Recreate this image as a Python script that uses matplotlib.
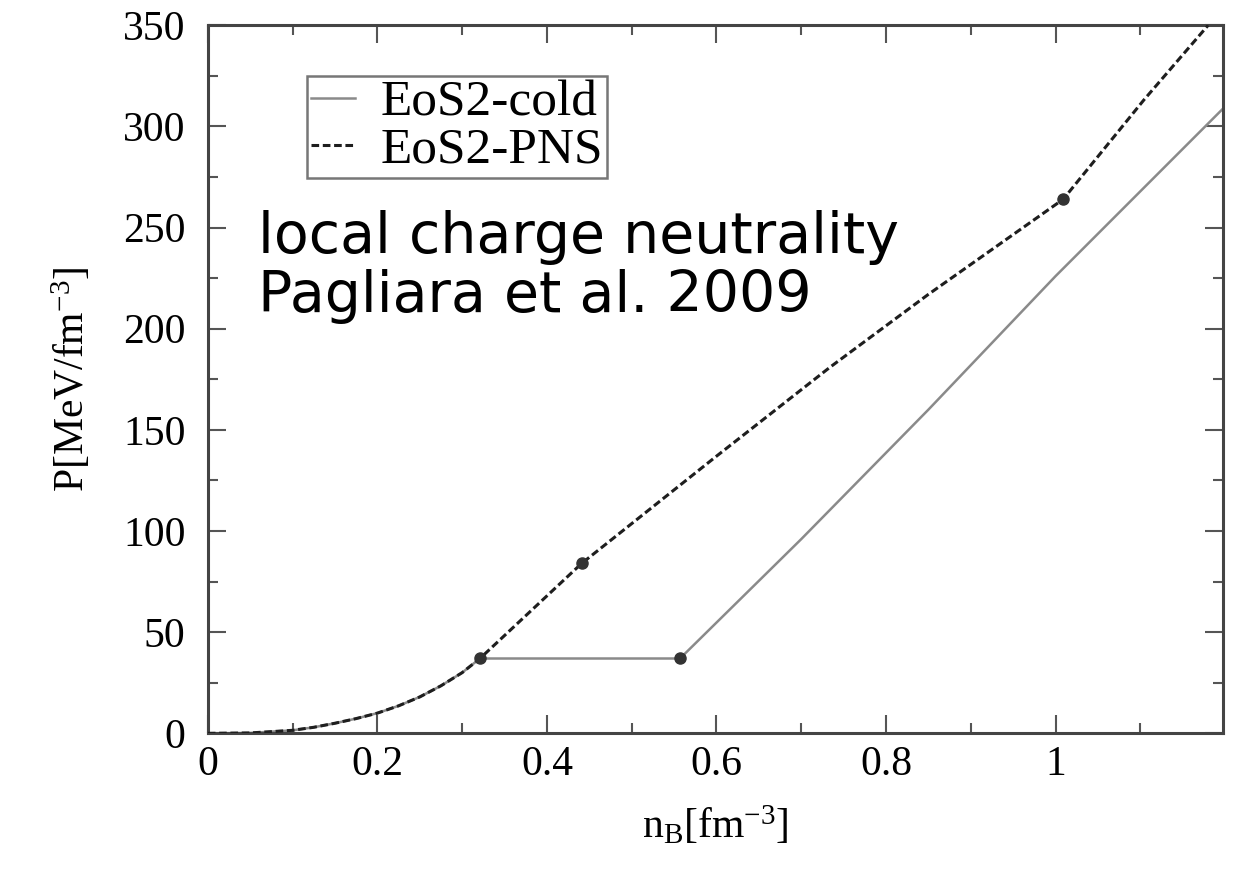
import matplotlib
matplotlib.use("Agg")
import matplotlib.pyplot as plt
from matplotlib.ticker import MultipleLocator

plt.rcParams['font.family'] = ['Liberation Serif', 'DejaVu Serif']
plt.rcParams['mathtext.fontset'] = 'custom'
plt.rcParams['mathtext.rm'] = 'Liberation Serif'
plt.rcParams['mathtext.it'] = 'Liberation Serif:italic'

# shared hadronic branch (both EoS coincide here)
n_low = [0.0, 0.05, 0.1, 0.125, 0.15, 0.175, 0.2, 0.225, 0.25, 0.275, 0.3, 0.321]
p_low = [0.0, 0.2, 1.5, 3.0, 5.0, 7.3, 10.0, 13.6, 18.0, 23.5, 30.0, 37.0]

# EoS2-cold: mixed phase plateau then quark phase
n_cold = [0.557, 0.7, 0.85, 1.0, 1.198]
p_cold = [37.0, 96.0, 160.0, 226.0, 309.0]

# EoS2-PNS above the onset of the mixed phase
n_pns = [0.321, 0.441, 0.6, 0.734, 0.85, 1.009, 1.104, 1.18]
p_pns = [37.0, 84.0, 137.0, 181.0, 217.0, 264.0, 313.0, 350.0]

# phase boundaries marked by dots
n_dots = [0.321, 0.557, 0.441, 1.009]
p_dots = [37.0, 37.0, 84.0, 264.0]

fig = plt.figure(figsize=(12.37, 8.72), dpi=100)
ax = fig.add_axes([0.168, 0.159, 0.821, 0.812])

ax.plot(n_low + n_cold, p_low + p_cold, color='#8a8a8a', lw=1.8,
        label='EoS2-cold', zorder=2)
ax.plot(n_low + n_pns[1:], p_low + p_pns[1:], color='#1e1e1e', lw=2.2,
        ls=(0, (2.5, 1.2)), label='EoS2-PNS', zorder=3)
ax.plot(n_dots, p_dots, 'o', color='#333333', ms=8, zorder=4)

ax.set_xlim(0, 1.198)
ax.set_ylim(0, 350)
ax.xaxis.set_major_locator(MultipleLocator(0.2))
ax.xaxis.set_minor_locator(MultipleLocator(0.1))
ax.yaxis.set_major_locator(MultipleLocator(50))
ax.yaxis.set_minor_locator(MultipleLocator(25))
ax.set_xticks([0, 0.2, 0.4, 0.6, 0.8, 1.0])
ax.set_xticklabels(['0', '0.2', '0.4', '0.6', '0.8', '1'])

ax.tick_params(which='both', direction='in', top=True, right=True,
               color='#555555', width=1.5, labelsize=30)
ax.tick_params(which='major', length=13)
ax.tick_params(which='minor', length=7)
ax.tick_params(axis='x', pad=9)
ax.tick_params(axis='y', pad=16)
for sp in ax.spines.values():
    sp.set_linewidth(2.2)
    sp.set_color('#444444')

ax.set_xlabel(r'$\mathrm{n_B[fm^{-3}]}$', fontsize=30, labelpad=14)
ax.set_ylabel(r'$\mathrm{P[MeV/fm^{-3}]}$', fontsize=30, labelpad=22)

leg = ax.legend(loc='upper left', bbox_to_anchor=(0.0975, 0.929),
                borderaxespad=0, fontsize=37, handlelength=0.85,
                handletextpad=0.5, labelspacing=0.0, borderpad=0.08,
                fancybox=False, framealpha=1)
leg.get_frame().set_edgecolor('#777777')
leg.get_frame().set_linewidth(1.8)

ax.text(0.049, 0.678, 'local charge neutrality', transform=ax.transAxes,
        fontsize=41, family='DejaVu Sans', va='baseline', ha='left',
        color='black')
ax.text(0.049, 0.595, 'Pagliara et al. 2009', transform=ax.transAxes,
        fontsize=41, family='DejaVu Sans', va='baseline', ha='left',
        color='black')

fig.savefig('out.png', dpi=100)
